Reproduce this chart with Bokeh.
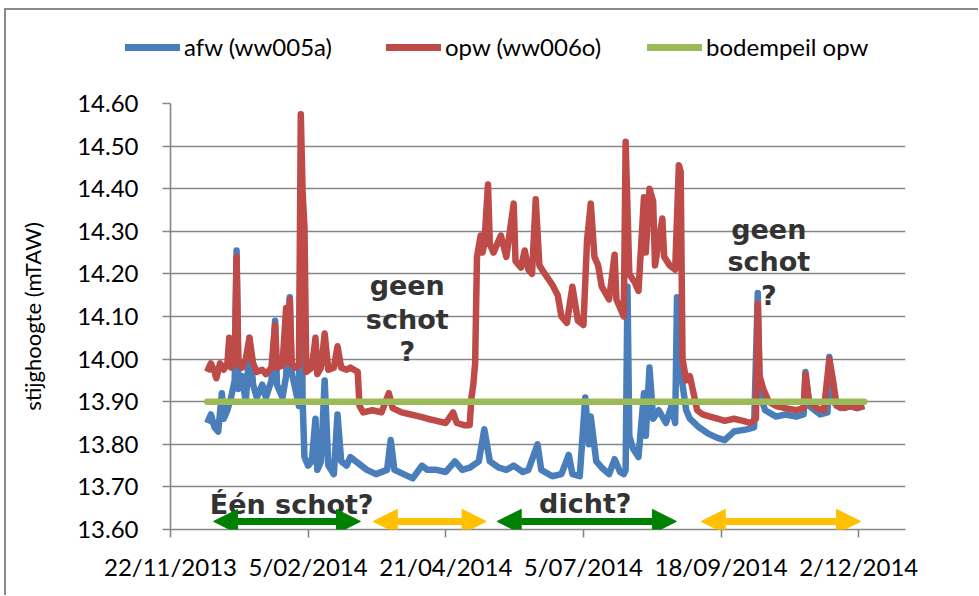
import pandas as pd
from bokeh.plotting import figure
from bokeh.layouts import column
from bokeh.models import (Legend, LegendItem, Label, Arrow, NormalHead, FixedTicker,
                          PrintfTickFormatter, Range1d, ColumnDataSource)
from bokeh.embed import file_html
from bokeh.resources import INLINE

# ---------------- data ----------------
afw = [
    ("2013-12-12", 13.85), ("2013-12-14", 13.87), ("2013-12-16", 13.84), ("2013-12-18", 13.83),
    ("2013-12-20", 13.92), ("2013-12-21", 13.86), ("2013-12-23", 13.88), ("2013-12-25", 13.91),
    ("2013-12-27", 13.95), ("2013-12-28", 14.255), ("2013-12-29", 13.93), ("2013-12-31", 13.96),
    ("2014-01-02", 13.90), ("2014-01-03", 13.96), ("2014-01-04", 14.05), ("2014-01-06", 13.94),
    ("2014-01-08", 13.91), ("2014-01-11", 13.94), ("2014-01-13", 13.91), ("2014-01-16", 13.95),
    ("2014-01-18", 14.09), ("2014-01-19", 13.94), ("2014-01-22", 13.91), ("2014-01-24", 13.96),
    ("2014-01-26", 14.145), ("2014-01-27", 13.97), ("2014-01-29", 13.93), ("2014-01-31", 13.89),
    ("2014-02-01", 14.35), ("2014-02-02", 13.90), ("2014-02-03", 13.77), ("2014-02-05", 13.75),
    ("2014-02-07", 13.76), ("2014-02-09", 13.86), ("2014-02-10", 13.74), ("2014-02-12", 13.76),
    ("2014-02-14", 13.95), ("2014-02-16", 13.75), ("2014-02-19", 13.73), ("2014-02-21", 13.87),
    ("2014-02-23", 13.76), ("2014-02-26", 13.75), ("2014-02-28", 13.77), ("2014-03-03", 13.76),
    ("2014-03-09", 13.74), ("2014-03-14", 13.73), ("2014-03-20", 13.74), ("2014-03-22", 13.81),
    ("2014-03-24", 13.74), ("2014-03-29", 13.73), ("2014-04-03", 13.72), ("2014-04-08", 13.75),
    ("2014-04-11", 13.74), ("2014-04-16", 13.74), ("2014-04-21", 13.735), ("2014-04-26", 13.76),
    ("2014-04-30", 13.74), ("2014-05-04", 13.745), ("2014-05-09", 13.76), ("2014-05-12", 13.835),
    ("2014-05-15", 13.76), ("2014-05-20", 13.745), ("2014-05-24", 13.74), ("2014-05-28", 13.75),
    ("2014-06-02", 13.735), ("2014-06-05", 13.74), ("2014-06-10", 13.80), ("2014-06-12", 13.74),
    ("2014-06-18", 13.725), ("2014-06-23", 13.73), ("2014-06-27", 13.775), ("2014-06-29", 13.73),
    ("2014-07-03", 13.725), ("2014-07-06", 13.91), ("2014-07-08", 13.80), ("2014-07-09", 13.865),
    ("2014-07-12", 13.76), ("2014-07-15", 13.745), ("2014-07-19", 13.73), ("2014-07-22", 13.765),
    ("2014-07-25", 13.735), ("2014-07-27", 13.73), ("2014-07-28", 13.74), ("2014-07-29", 14.17),
    ("2014-07-30", 13.82), ("2014-08-01", 13.79), ("2014-08-04", 13.77), ("2014-08-07", 13.92),
    ("2014-08-08", 13.82), ("2014-08-10", 13.98), ("2014-08-12", 13.86), ("2014-08-15", 13.88),
    ("2014-08-19", 13.85), ("2014-08-22", 13.89), ("2014-08-24", 13.85), ("2014-08-25", 14.145),
    ("2014-08-27", 13.97), ("2014-08-30", 13.88), ("2014-09-01", 13.86), ("2014-09-06", 13.84),
    ("2014-09-11", 13.825), ("2014-09-16", 13.815), ("2014-09-20", 13.81), ("2014-09-25", 13.83),
    ("2014-10-02", 13.835), ("2014-10-06", 13.84), ("2014-10-08", 14.155), ("2014-10-09", 13.92),
    ("2014-10-12", 13.88), ("2014-10-18", 13.865), ("2014-10-23", 13.87), ("2014-10-29", 13.865),
    ("2014-11-02", 13.87), ("2014-11-03", 13.97), ("2014-11-05", 13.89), ("2014-11-11", 13.87),
    ("2014-11-15", 13.875), ("2014-11-16", 14.005), ("2014-11-18", 13.90), ("2014-11-22", 13.885),
    ("2014-11-27", 13.89), ("2014-12-01", 13.885), ("2014-12-05", 13.89),
]

opw = [
    ("2013-12-12", 13.97), ("2013-12-14", 13.99), ("2013-12-16", 13.97), ("2013-12-17", 13.955),
    ("2013-12-19", 13.99), ("2013-12-21", 13.975), ("2013-12-23", 13.99), ("2013-12-24", 14.05),
    ("2013-12-25", 13.98), ("2013-12-27", 13.99), ("2013-12-28", 14.24), ("2013-12-29", 13.99),
    ("2013-12-31", 13.98), ("2014-01-02", 14.00), ("2014-01-04", 14.05), ("2014-01-06", 13.99),
    ("2014-01-08", 13.97), ("2014-01-11", 13.975), ("2014-01-13", 13.965), ("2014-01-16", 13.98),
    ("2014-01-18", 14.08), ("2014-01-19", 13.98), ("2014-01-22", 13.985), ("2014-01-24", 14.12),
    ("2014-01-25", 13.99), ("2014-01-26", 14.14), ("2014-01-27", 13.99), ("2014-01-29", 13.98),
    ("2014-01-31", 13.985), ("2014-02-01", 14.575), ("2014-02-02", 14.39), ("2014-02-03", 14.31),
    ("2014-02-04", 13.97), ("2014-02-07", 13.98), ("2014-02-09", 14.05), ("2014-02-10", 13.965),
    ("2014-02-12", 13.98), ("2014-02-14", 14.06), ("2014-02-16", 13.975), ("2014-02-19", 13.98),
    ("2014-02-21", 14.03), ("2014-02-23", 13.98), ("2014-02-26", 13.975), ("2014-02-28", 13.98),
    ("2014-03-02", 13.975), ("2014-03-04", 13.97), ("2014-03-05", 13.89), ("2014-03-07", 13.875),
    ("2014-03-12", 13.88), ("2014-03-17", 13.875), ("2014-03-21", 13.92), ("2014-03-23", 13.885),
    ("2014-03-28", 13.875), ("2014-04-02", 13.87), ("2014-04-07", 13.865), ("2014-04-11", 13.86),
    ("2014-04-16", 13.855), ("2014-04-21", 13.85), ("2014-04-25", 13.875), ("2014-04-27", 13.85),
    ("2014-05-01", 13.845), ("2014-05-04", 13.845), ("2014-05-05", 13.91), ("2014-05-06", 13.94),
    ("2014-05-07", 13.99), ("2014-05-08", 14.24), ("2014-05-10", 14.29), ("2014-05-11", 14.25),
    ("2014-05-12", 14.27), ("2014-05-14", 14.41), ("2014-05-15", 14.27), ("2014-05-17", 14.25),
    ("2014-05-21", 14.29), ("2014-05-24", 14.24), ("2014-05-28", 14.365), ("2014-05-29", 14.23),
    ("2014-06-01", 14.215), ("2014-06-03", 14.255), ("2014-06-05", 14.21), ("2014-06-07", 14.20),
    ("2014-06-09", 14.375), ("2014-06-11", 14.22), ("2014-06-14", 14.20), ("2014-06-18", 14.175),
    ("2014-06-21", 14.15), ("2014-06-23", 14.10), ("2014-06-26", 14.085), ("2014-06-29", 14.17),
    ("2014-07-02", 14.09), ("2014-07-05", 14.08), ("2014-07-07", 14.28), ("2014-07-09", 14.365),
    ("2014-07-11", 14.24), ("2014-07-13", 14.22), ("2014-07-15", 14.17), ("2014-07-19", 14.14),
    ("2014-07-22", 14.245), ("2014-07-23", 14.14), ("2014-07-27", 14.10), ("2014-07-28", 14.51),
    ("2014-07-30", 14.20), ("2014-08-02", 14.18), ("2014-08-04", 14.16), ("2014-08-07", 14.38),
    ("2014-08-08", 14.25), ("2014-08-10", 14.40), ("2014-08-12", 14.37), ("2014-08-13", 14.22),
    ("2014-08-17", 14.33), ("2014-08-18", 14.24), ("2014-08-21", 14.22), ("2014-08-24", 14.21),
    ("2014-08-26", 14.455), ("2014-08-27", 14.44), ("2014-08-28", 14.00), ("2014-08-30", 13.95),
    ("2014-09-01", 13.96), ("2014-09-03", 13.92), ("2014-09-05", 13.88), ("2014-09-08", 13.87),
    ("2014-09-12", 13.865), ("2014-09-16", 13.86), ("2014-09-20", 13.855), ("2014-09-25", 13.86),
    ("2014-09-30", 13.855), ("2014-10-04", 13.85), ("2014-10-07", 13.86), ("2014-10-08", 14.13),
    ("2014-10-09", 13.96), ("2014-10-11", 13.93), ("2014-10-14", 13.90), ("2014-10-18", 13.89),
    ("2014-10-23", 13.885), ("2014-10-29", 13.88), ("2014-11-02", 13.885), ("2014-11-03", 13.965),
    ("2014-11-05", 13.90), ("2014-11-09", 13.885), ("2014-11-13", 13.88), ("2014-11-16", 14.00),
    ("2014-11-18", 13.95), ("2014-11-20", 13.89), ("2014-11-24", 13.885), ("2014-11-28", 13.89),
    ("2014-12-01", 13.885), ("2014-12-05", 13.89),
]

bodempeil = [("2013-12-12", 13.90), ("2014-12-05", 13.90)]

series_names = ["afw (ww005a)", "opw (ww006o)", "bodempeil opw"]
series_colors = ["#4A7EBB", "#BE4B48", "#9BBB59"]

x_tick_dates = ["2013-11-22", "2014-02-05", "2014-04-21", "2014-07-05", "2014-09-18", "2014-12-02"]
x_tick_labels = ["22/11/2013", "5/02/2014", "21/04/2014", "5/07/2014", "18/09/2014", "2/12/2014"]
y_ticks = [13.6, 13.7, 13.8, 13.9, 14.0, 14.1, 14.2, 14.3, 14.4, 14.5, 14.6]


def ms(s):
    return pd.Timestamp(s).value // 10**6


def src(pairs):
    return ColumnDataSource(dict(x=[pd.Timestamp(d) for d, _ in pairs], y=[v for _, v in pairs]))


W = 972
LEG_H = 52

# ---------------- main chart ----------------
p = figure(width=W, height=533,
           min_border_left=164, min_border_right=W - 164 - 735, min_border_top=41,
           min_border_bottom=533 - 41 - 426,
           x_axis_type="datetime",
           x_range=Range1d(ms("2013-11-22"), ms("2014-12-27 12:00")),
           y_range=Range1d(13.6, 14.6),
           output_backend="svg", toolbar_location=None)
p.frame_align = False

p.outline_line_color = None
p.background_fill_color = "white"
p.border_fill_color = "white"
p.xgrid.visible = False
p.ygrid.grid_line_color = "#868686"
p.ygrid.grid_line_width = 1.6

lw = 6.5
r1 = p.line("x", "y", source=src(afw), color=series_colors[0], line_width=lw, line_join="round")
r2 = p.line("x", "y", source=src(opw), color=series_colors[1], line_width=lw, line_join="round")
r3 = p.line("x", "y", source=src(bodempeil), color=series_colors[2], line_width=lw, line_cap="round")

p.xaxis.ticker = FixedTicker(ticks=[ms(d) for d in x_tick_dates])
p.xaxis.major_label_overrides = {ms(d): lab for d, lab in zip(x_tick_dates, x_tick_labels)}
p.yaxis.ticker = FixedTicker(ticks=y_ticks)
p.yaxis.formatter = PrintfTickFormatter(format="%.2f")
for ax in (p.xaxis[0], p.yaxis[0]):
    ax.axis_line_color = "#868686"
    ax.axis_line_width = 1.6
    ax.major_tick_line_color = "#868686"
    ax.major_tick_line_width = 1.6
    ax.major_tick_out = 8
    ax.major_tick_in = 0
    ax.minor_tick_out = 0
    ax.minor_tick_in = 0
    ax.major_label_text_font = "Lato"
    ax.major_label_text_font_size = "24px"
    ax.major_label_text_color = "#000000"
p.xaxis.major_label_standoff = 14
p.yaxis.major_label_standoff = 24
p.yaxis.axis_label = "stijghoogte (mTAW)"
p.yaxis.axis_label_text_font = "Lato"
p.yaxis.axis_label_text_font_size = "22px"
p.yaxis.axis_label_text_font_style = "normal"
p.yaxis.axis_label_text_color = "#000000"
p.yaxis.axis_label_standoff = 28

note_font = "DejaVu Sans"
note_color = "#333333"
notes = [
    ("geen", "2014-03-31", 14.172), ("schot", "2014-03-31", 14.092), ("?", "2014-03-31", 14.017),
    ("geen", "2014-10-14", 14.305), ("schot", "2014-10-14", 14.230), ("?", "2014-10-14", 14.150),
    ("Één schot?", "2014-01-27", 13.659), ("dicht?", "2014-07-06", 13.660),
]
for t, d, y in notes:
    p.add_layout(Label(x=ms(d), y=y, text=t, text_align="center", text_baseline="alphabetic",
                       text_font=note_font, text_font_size="27px", text_font_style="bold",
                       text_color=note_color))

arrows = [
    ("2013-12-15 12:00", "2014-03-05 12:00", "#008000"),
    ("2014-03-12 12:00", "2014-05-13", "#FFC000"),
    ("2014-05-19", "2014-08-24 16:00", "#008000"),
    ("2014-09-07 05:00", "2014-12-03", "#FFC000"),
]
for a, b, c in arrows:
    p.add_layout(Arrow(start=NormalHead(size=24, fill_color=c, line_color=c, line_width=1),
                       end=NormalHead(size=24, fill_color=c, line_color=c, line_width=1),
                       x_start=ms(a), y_start=13.619, x_end=ms(b), y_end=13.619,
                       line_color=c, line_width=7))

# ---------------- legend strip above the chart ----------------
lg = figure(width=W, height=LEG_H, x_range=Range1d(0, 1), y_range=Range1d(0, 1),
            min_border=0, output_backend="svg", toolbar_location=None)
lg.frame_align = False
lg.axis.visible = False
lg.grid.visible = False
lg.outline_line_color = None
lg.background_fill_color = "white"
lg.border_fill_color = "white"
nan = float("nan")
leg_renderers = [lg.line(x=[0, 1], y=[nan, nan], color=c, line_width=7, line_cap="round")
                 for c in series_colors]
legend = Legend(items=[LegendItem(label=n, renderers=[r]) for n, r in zip(series_names, leg_renderers)],
                orientation="horizontal", location=(119, 1), padding=0, margin=0,
                spacing=40, glyph_width=55, glyph_height=28, label_height=28, label_width=162,
                label_standoff=4,
                label_text_font="Lato", label_text_font_size="24px", label_text_color="#000000",
                background_fill_alpha=0, border_line_color=None)
lg.add_layout(legend)

layout = column(lg, p, spacing=0)
layout.styles = {"margin-left": "4px", "margin-top": "8px",
                 "border-top": "2px solid #8a8a8a", "border-left": "2px solid #8a8a8a"}
open("out.html", "w").write(file_html(layout, INLINE))
